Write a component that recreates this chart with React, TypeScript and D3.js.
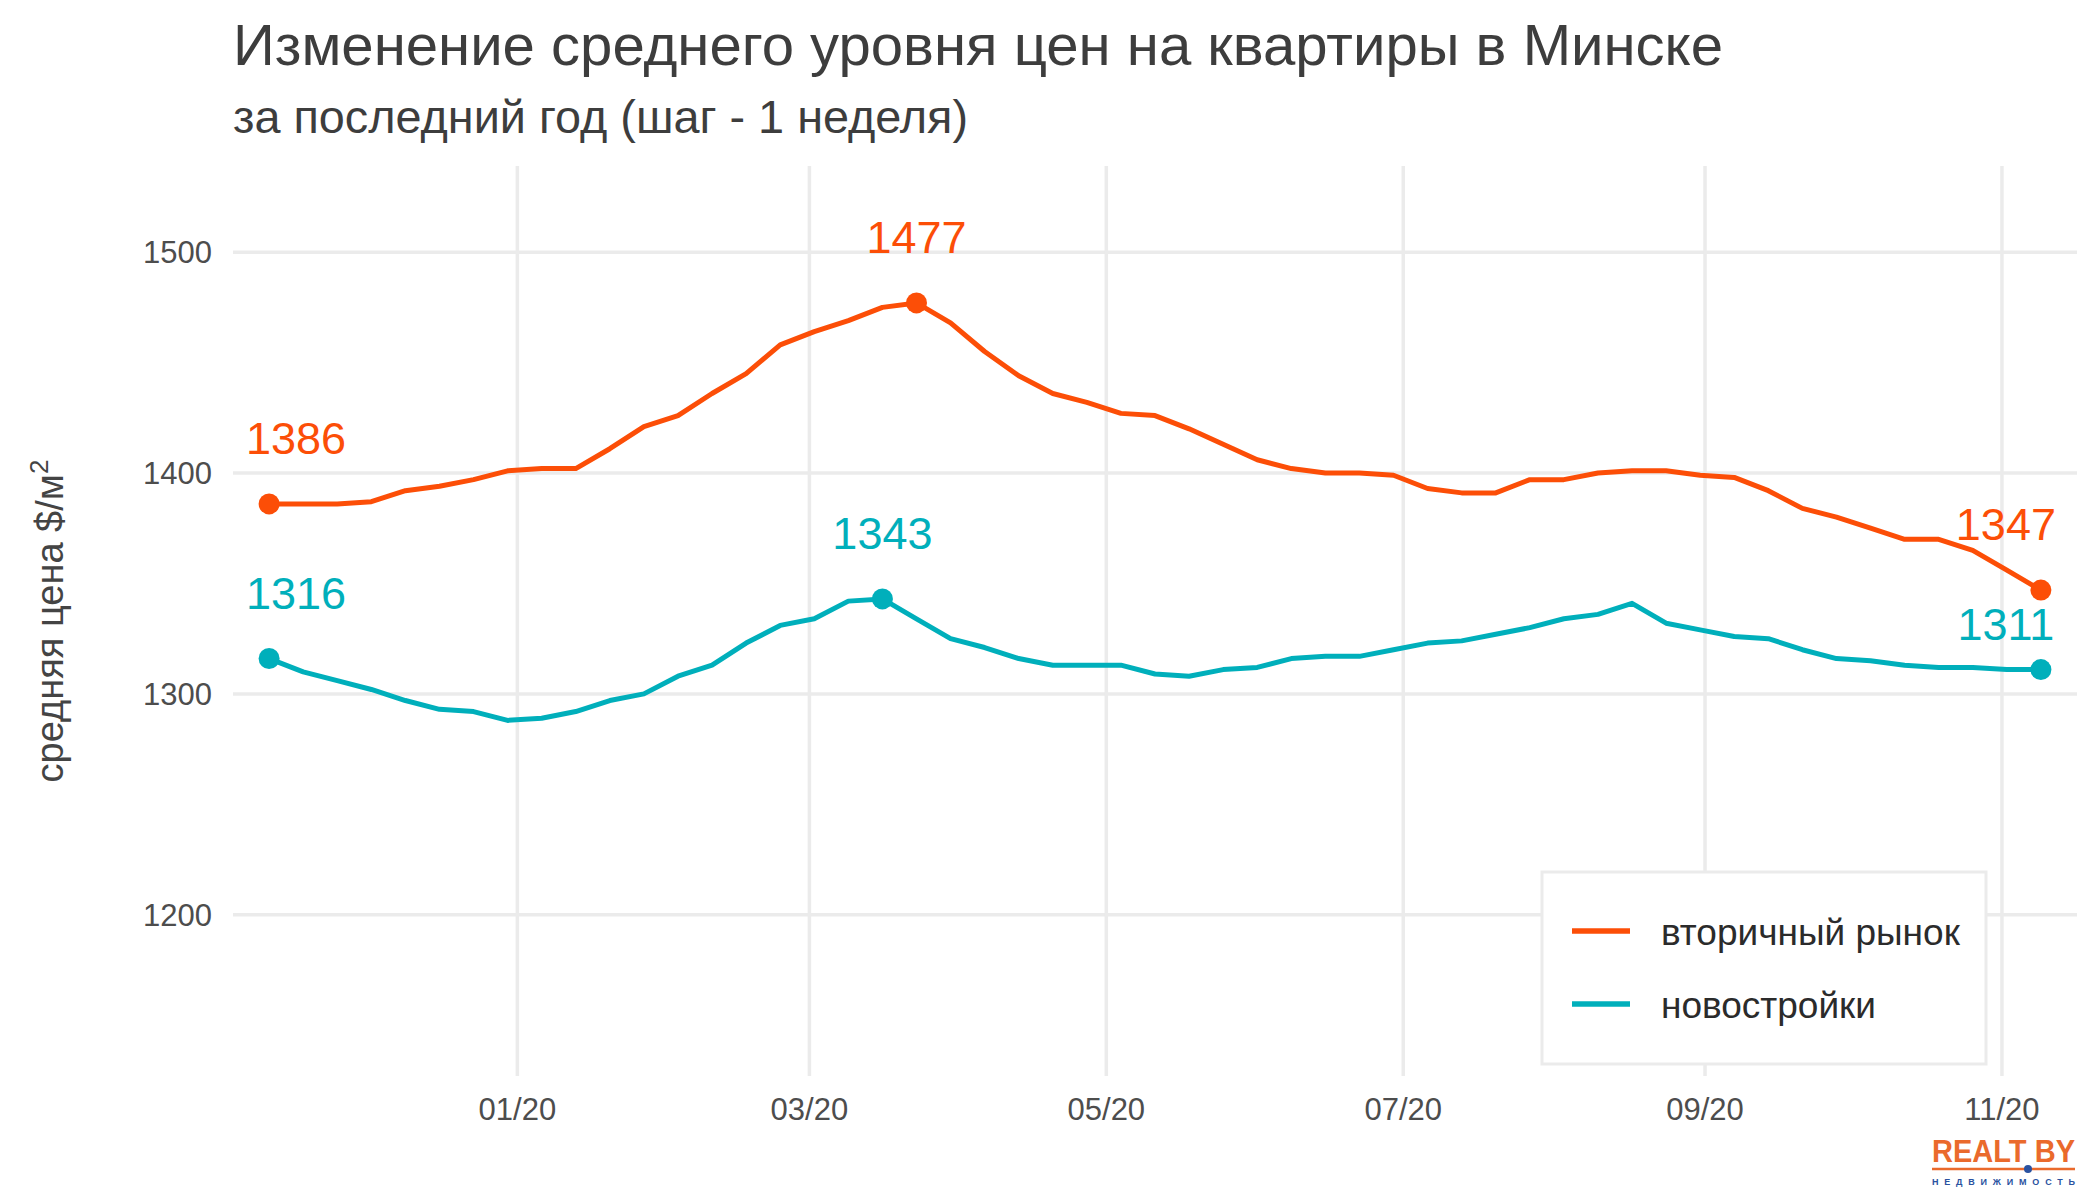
import * as d3 from 'd3';

const W = 2100;
const H = 1200;
const FONT = '"Liberation Sans", Arial, sans-serif';

// weekly observations, first week starts 2019-11-11
const FIRST_WEEK = new Date(2019, 10, 11);

const SECONDARY = [
  1386, 1386, 1386, 1387, 1392, 1394, 1397, 1401, 1402, 1402, 1411, 1421, 1426, 1436,
  1445, 1458, 1464, 1469, 1475, 1477, 1468, 1455, 1444, 1436, 1432, 1427, 1426, 1420,
  1413, 1406, 1402, 1400, 1400, 1399, 1393, 1391, 1391, 1397, 1397, 1400, 1401, 1401,
  1399, 1398, 1392, 1384, 1380, 1375, 1370, 1370, 1365, 1356, 1347,
];

const NEW_BUILD = [
  1316, 1310, 1306, 1302, 1297, 1293, 1292, 1288, 1289, 1292, 1297, 1300, 1308, 1313,
  1323, 1331, 1334, 1342, 1343, 1334, 1325, 1321, 1316, 1313, 1313, 1313, 1309, 1308,
  1311, 1312, 1316, 1317, 1317, 1320, 1323, 1324, 1327, 1330, 1334, 1336, 1341, 1332,
  1329, 1326, 1325, 1320, 1316, 1315, 1313, 1312, 1312, 1311, 1311,
];

const SERIES_NAMES = ['вторичный рынок', 'новостройки'];
const SERIES_COLORS = ['#FC4E07', '#00AFBB'];

const Y_TICKS = [1200, 1300, 1400, 1500];
const X_TICKS = ['2020-01-01', '2020-03-01', '2020-05-01', '2020-07-01', '2020-09-01', '2020-11-01'];

// labelled points: series, week index, horizontal / vertical nudge
const LABELS = [
  { s: 0, i: 0, dx: 27, dy: -50 },
  { s: 0, i: 19, dx: 0, dy: -50 },
  { s: 0, i: 52, dx: -35, dy: -50 },
  { s: 1, i: 0, dx: 27, dy: -50 },
  { s: 1, i: 18, dx: 0, dy: -50 },
  { s: 1, i: 52, dx: -35, dy: -30 },
];

const TITLE = 'Изменение среднего уровня цен на квартиры в Минске';
const SUBTITLE = 'за последний год (шаг - 1 неделя)';

const panel = { left: 233, right: 2077, top: 166, bottom: 1076 };

export default function App() {
  const dates = SECONDARY.map((_, i) => d3.timeDay.offset(FIRST_WEEK, 7 * i));
  const series = [SECONDARY, NEW_BUILD];

  const x = d3
    .scaleTime()
    .domain([d3.timeHour.offset(dates[0], -178), d3.timeHour.offset(dates[dates.length - 1], 178)])
    .range([panel.left, panel.right]);
  const y = d3.scaleLinear().domain([1127, 1539]).range([panel.bottom, panel.top]);

  const line = d3
    .line<number>()
    .x((_, i) => x(dates[i]))
    .y((d) => y(d));

  const fmt = d3.timeFormat('%m/%y');
  const xTicks = X_TICKS.map((s) => d3.timeParse('%Y-%m-%d')(s) as Date);

  return (
    <svg
      width={W}
      height={H}
      style={{ position: 'absolute', left: 0, top: 0, background: '#fff' }}
      fontFamily={FONT}
    >
      <rect width={W} height={H} fill="#fff" />

      {/* grid */}
      <g stroke="#EBEBEB" strokeWidth={3.5}>
        {Y_TICKS.map((t) => (
          <line key={t} x1={panel.left} x2={panel.right} y1={y(t)} y2={y(t)} />
        ))}
        {xTicks.map((t) => (
          <line key={+t} x1={x(t)} x2={x(t)} y1={panel.top} y2={panel.bottom} />
        ))}
      </g>

      {/* axes text */}
      <g fill="#4D4D4D" fontSize={31}>
        {Y_TICKS.map((t) => (
          <text key={t} x={212} y={y(t) + 11} textAnchor="end">
            {t}
          </text>
        ))}
        {xTicks.map((t) => (
          <text key={+t} x={x(t)} y={1120} textAnchor="middle">
            {fmt(t)}
          </text>
        ))}
      </g>
      <text
        transform={`translate(63,${(panel.top + panel.bottom) / 2}) rotate(-90)`}
        textAnchor="middle"
        fontSize={38}
        fill="#444"
      >
        средняя цена $/м<tspan dy={-15} fontSize={26}>2</tspan>
      </text>

      {/* lines */}
      {series.map((vals, s) => (
        <path
          key={s}
          d={line(vals) ?? ''}
          fill="none"
          stroke={SERIES_COLORS[s]}
          strokeWidth={5}
          strokeLinejoin="round"
        />
      ))}

      {/* labelled points */}
      {LABELS.map((l, k) => {
        const px = x(dates[l.i]);
        const py = y(series[l.s][l.i]);
        return (
          <g key={k} fill={SERIES_COLORS[l.s]}>
            <circle cx={px} cy={py} r={10.5} />
            <text x={px + l.dx} y={py + l.dy} textAnchor="middle" fontSize={45}>
              {series[l.s][l.i]}
            </text>
          </g>
        );
      })}

      {/* legend */}
      <rect x={1542} y={872} width={444} height={192} fill="#fff" stroke="#EBEBEB" strokeWidth={3} />
      {SERIES_NAMES.map((name, i) => {
        const ly = 931 + i * 73;
        return (
          <g key={name}>
            <line x1={1572} x2={1630} y1={ly} y2={ly} stroke={SERIES_COLORS[i]} strokeWidth={5.5} />
            <text x={1661} y={ly + 14} fontSize={37} fill="#2B2B2B">
              {name}
            </text>
          </g>
        );
      })}

      {/* titles */}
      <text x={233} y={65} fontSize={57} fill="#3D3D3D" textLength={1490} lengthAdjust="spacingAndGlyphs">
        {TITLE}
      </text>
      <text x={233} y={133} fontSize={46} fill="#3D3D3D" textLength={735} lengthAdjust="spacingAndGlyphs">
        {SUBTITLE}
      </text>

      {/* logo */}
      <g>
        <text
          x={1932}
          y={1162}
          fontSize={32}
          fontWeight="bold"
          fill="#EA6A2C"
          textLength={143}
          lengthAdjust="spacingAndGlyphs"
          fontFamily='"Liberation Sans Narrow", "Liberation Sans", sans-serif'
        >
          REALT BY
        </text>
        <line x1={1932} x2={2075} y1={1169} y2={1169} stroke="#EA6A2C" strokeWidth={2.5} />
        <circle cx={2028} cy={1169} r={4} fill="#2A52A0" />
        <text
          x={1932}
          y={1185}
          fontSize={9}
          fontWeight="bold"
          fill="#2A52A0"
          textLength={143}
          lengthAdjust="spacing"
        >
          НЕДВИЖИМОСТЬ
        </text>
      </g>
    </svg>
  );
}
